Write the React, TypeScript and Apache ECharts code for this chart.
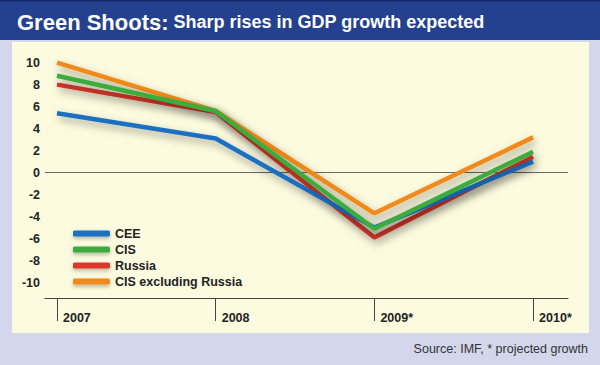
import React, { useEffect, useRef } from "react";
import * as echarts from "echarts";

const categories = ["2007", "2008", "2009*", "2010*"];
const seriesNames = ["CEE", "CIS", "Russia", "CIS excluding Russia"];
const cee = [5.4, 3.1, -5.0, 1.0];
const cis = [8.8, 5.6, -5.1, 1.9];
const russia = [8.0, 5.5, -5.9, 1.45];
const cisExRussia = [10.0, 5.6, -3.7, 3.2];
const yTicks = [-10, -8, -6, -4, -2, 0, 2, 4, 6, 8, 10];
const colors = {
  CEE: "#1b6fc2",
  CIS: "#3bac3c",
  Russia: "#d9382c",
  "CIS excluding Russia": "#f08a1a",
};

const FONT = "'Liberation Sans', Arial, Helvetica, sans-serif";

export default function App() {
  const ref = useRef<HTMLDivElement>(null);
  useEffect(() => {
    if (!ref.current) return;
    const chart = echarts.init(ref.current, undefined, { renderer: "svg" });
    const toPts = (arr: number[]) => arr.map((v, i) => [i, v]);
    const mkSeries = (name: string, data: number[], z: number) => ({
      name,
      type: "line",
      data: toPts(data),
      symbol: "none",
      z,
      lineStyle: {
        color: (colors as any)[name],
        width: 4.5,
        shadowColor: "rgba(0,0,0,0.38)",
        shadowBlur: 8,
        shadowOffsetX: 2,
        shadowOffsetY: 4,
      },
      itemStyle: { color: (colors as any)[name] },
    });
    chart.setOption({
      animation: false,
      backgroundColor: "#d4d6ec",
      textStyle: { fontFamily: FONT },
      graphic: [
        { type: "rect", z: -10, shape: { x: 0, y: 0, width: 600, height: 40 }, style: { fill: "#24418f" } },
        { type: "rect", z: -10, shape: { x: 0, y: 0, width: 600, height: 1.5 }, style: { fill: "#15286a" } },
        { type: "rect", z: -10, shape: { x: 12, y: 42, width: 577, height: 291 }, style: { fill: "#fdfbdf" } },
        {
          type: "text",
          right: 12,
          top: 342,
          style: {
            text: "Source: IMF, * projected growth",
            fill: "#333",
            font: `12.5px ${FONT}`,
          },
        },
      ],
      title: {
        left: 12,
        top: 6,
        text: "{a|Green Shoots:} {b|Sharp rises in GDP growth expected}",
        textStyle: {
          rich: {
            a: { fontSize: 22, fontWeight: "bold", color: "#fff", fontFamily: FONT },
            b: { fontSize: 18, fontWeight: "bold", color: "#fff", fontFamily: FONT },
          },
        },
      },
      legend: {
        orient: "vertical",
        left: 68,
        top: 222,
        itemWidth: 37,
        itemHeight: 6,
        itemGap: 3,
        icon: "roundRect",
        data: seriesNames,
        textStyle: { fontSize: 12.5, fontWeight: "bold", color: "#222", fontFamily: FONT },
        itemStyle: { shadowColor: "rgba(0,0,0,0.3)", shadowBlur: 4, shadowOffsetY: 2 },
      },
      grid: { left: 45, right: 32, top: 45, bottom: 67 },
      xAxis: {
        type: "value",
        min: -0.0756,
        max: 3.22,
        axisLine: { show: true, onZero: false, lineStyle: { color: "#444", width: 1 } },
        axisTick: { show: true, customValues: [0, 1, 2, 3], length: 23, lineStyle: { color: "#444", width: 1 } },
        splitLine: { show: false },
        axisLabel: {
          customValues: [0, 1, 2, 3],
          formatter: (v: number) => categories[Math.round(v)],
          align: "left",
          padding: [0, 0, 0, 6],
          margin: 13,
          fontSize: 12.5,
          fontWeight: "bold",
          color: "#222",
          fontFamily: FONT,
        },
      },
      yAxis: {
        type: "value",
        min: -11.4,
        max: 11.6,
        axisLine: { show: false },
        axisTick: { show: false },
        splitLine: { show: false },
        axisLabel: {
          customValues: yTicks,
          margin: 5,
          fontSize: 12.5,
          fontWeight: "bold",
          color: "#222",
          fontFamily: FONT,
        },
      },
      series: [
        {
          ...mkSeries("Russia", russia, 2),
          markLine: {
            silent: true,
            symbol: "none",
            label: { show: false },
            lineStyle: { color: "#666", width: 1.2, type: "solid", shadowBlur: 0 },
            data: [{ yAxis: 0 }],
            z: 1,
          },
        },
        mkSeries("CIS excluding Russia", cisExRussia, 3),
        mkSeries("CEE", cee, 4),
        mkSeries("CIS", cis, 5),
      ],
    });
    return () => chart.dispose();
  }, []);
  return <div ref={ref} style={{ position: "fixed", left: 0, top: 0, width: 600, height: 365 }} />;
}
